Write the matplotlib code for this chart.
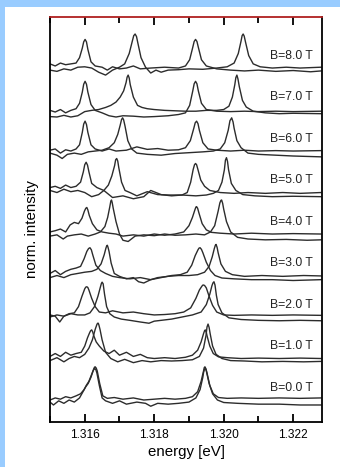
import numpy as np
import matplotlib
matplotlib.use("Agg")
from matplotlib import pyplot as plt
from matplotlib.patches import Rectangle
from matplotlib.ticker import MultipleLocator

plt.rcParams['font.family'] = ['Liberation Sans', 'DejaVu Sans']

# --------------------------------------------------------------------------------------------------
# Data
# energies in meV above 1.315 eV, intensities in units of one trace spacing (offset = field in T)
# two polarisation traces per field: "a" and "b"
# --------------------------------------------------------------------------------------------------

fields = [8, 7, 6, 5, 4, 3, 2, 1, 0]
field_labels = ["B=8.0 T", "B=7.0 T", "B=6.0 T", "B=5.0 T", "B=4.0 T",
                "B=3.0 T", "B=2.0 T", "B=1.0 T", "B=0.0 T"]

e_8a = [0.00, 0.15, 0.30, 0.45, 0.60, 0.75, 0.85, 0.93, 0.97, 1.01, 1.05, 1.09, 1.18, 1.30, 1.50, 1.65, 1.80, 2.00, 2.20, 2.40, 2.60, 2.90, 3.30, 3.70, 3.90, 4.02, 4.11, 4.15, 4.19, 4.23, 4.27, 4.36, 4.50, 4.80, 5.20, 5.60, 6.00, 6.50, 7.00, 7.50, 7.80]
i_8a = [0.10, 0.05, 0.12, 0.08, 0.10, 0.12, 0.25, 0.48, 0.63, 0.69, 0.63, 0.45, 0.15, 0.05, 0.02, -0.05, 0.03, -0.02, 0.00, 0.05, -0.02, 0.00, 0.02, 0.00, 0.05, 0.20, 0.50, 0.64, 0.69, 0.64, 0.50, 0.20, 0.05, -0.02, -0.05, -0.07, -0.05, -0.08, -0.06, -0.09, -0.07]
e_8b = [0.00, 0.20, 0.40, 0.60, 0.80, 1.00, 1.20, 1.40, 1.60, 1.80, 2.00, 2.15, 2.28, 2.37, 2.41, 2.45, 2.49, 2.53, 2.62, 2.75, 2.90, 3.05, 3.20, 3.40, 3.70, 4.00, 4.40, 4.80, 5.10, 5.30, 5.42, 5.50, 5.53, 5.56, 5.59, 5.63, 5.72, 5.85, 6.05, 6.40, 6.80, 7.20, 7.80]
i_8b = [-0.05, -0.08, -0.02, -0.05, 0.02, 0.03, 0.00, -0.10, -0.17, -0.05, 0.02, 0.10, 0.35, 0.65, 0.78, 0.82, 0.76, 0.60, 0.25, 0.02, -0.12, -0.05, -0.10, -0.05, -0.04, -0.02, -0.03, 0.00, 0.03, 0.12, 0.35, 0.65, 0.78, 0.82, 0.77, 0.62, 0.30, 0.10, 0.03, 0.00, 0.02, 0.00, 0.02]

e_7a = [0.00, 0.15, 0.30, 0.45, 0.60, 0.75, 0.85, 0.93, 0.97, 1.01, 1.05, 1.09, 1.18, 1.30, 1.50, 1.70, 1.90, 2.10, 2.40, 2.70, 3.00, 3.40, 3.70, 3.90, 4.02, 4.11, 4.15, 4.19, 4.23, 4.27, 4.36, 4.50, 4.80, 5.20, 5.60, 6.00, 6.50, 7.00, 7.80]
i_7a = [-0.02, -0.06, 0.00, -0.08, -0.02, 0.02, 0.15, 0.42, 0.61, 0.68, 0.61, 0.42, 0.12, -0.02, -0.08, -0.15, -0.18, -0.15, -0.16, -0.18, -0.17, -0.15, -0.12, -0.08, 0.10, 0.45, 0.62, 0.68, 0.62, 0.45, 0.15, 0.00, -0.04, -0.05, -0.04, -0.05, -0.04, -0.05, -0.04]
e_7b = [0.00, 0.20, 0.40, 0.60, 0.80, 1.00, 1.20, 1.40, 1.60, 1.75, 1.90, 2.02, 2.12, 2.19, 2.22, 2.25, 2.28, 2.31, 2.40, 2.52, 2.65, 2.80, 3.00, 3.30, 3.60, 3.90, 4.20, 4.50, 4.80, 5.00, 5.15, 5.25, 5.32, 5.35, 5.38, 5.41, 5.45, 5.54, 5.65, 5.85, 6.20, 6.60, 7.00, 7.80]
i_7b = [-0.17, -0.18, -0.14, -0.18, -0.15, -0.05, -0.02, 0.00, 0.05, 0.10, 0.18, 0.30, 0.45, 0.65, 0.78, 0.83, 0.76, 0.60, 0.30, 0.10, 0.05, 0.02, 0.00, -0.02, -0.03, -0.04, -0.04, -0.02, -0.02, 0.00, 0.08, 0.30, 0.60, 0.77, 0.83, 0.74, 0.55, 0.22, 0.06, -0.04, -0.08, -0.10, -0.09, -0.10]

e_6a = [0.00, 0.15, 0.30, 0.45, 0.60, 0.75, 0.85, 0.93, 0.97, 1.01, 1.05, 1.09, 1.18, 1.30, 1.50, 1.70, 1.90, 2.20, 2.50, 2.80, 3.10, 3.40, 3.70, 3.90, 4.04, 4.14, 4.18, 4.22, 4.26, 4.30, 4.40, 4.55, 4.80, 5.20, 5.60, 6.00, 6.50, 7.00, 7.80]
i_6a = [0.02, 0.05, -0.05, 0.03, 0.00, 0.05, 0.15, 0.45, 0.65, 0.72, 0.64, 0.45, 0.15, 0.05, 0.00, 0.05, 0.00, 0.02, 0.10, 0.04, 0.06, 0.02, 0.03, 0.08, 0.25, 0.55, 0.68, 0.72, 0.66, 0.50, 0.20, 0.05, 0.02, 0.00, 0.02, 0.00, 0.01, 0.00, 0.01]
e_6b = [0.00, 0.20, 0.35, 0.50, 0.70, 0.90, 1.10, 1.30, 1.50, 1.70, 1.85, 1.95, 2.02, 2.06, 2.09, 2.12, 2.16, 2.24, 2.35, 2.50, 2.80, 3.20, 3.60, 4.00, 4.40, 4.70, 4.90, 5.03, 5.13, 5.18, 5.23, 5.27, 5.30, 5.38, 5.50, 5.70, 6.00, 6.50, 7.00, 7.80]
i_6b = [-0.05, -0.10, -0.18, -0.08, -0.05, -0.08, -0.02, 0.00, 0.02, 0.08, 0.20, 0.40, 0.62, 0.76, 0.80, 0.75, 0.60, 0.25, 0.05, -0.05, -0.08, -0.10, -0.06, -0.04, -0.02, 0.00, 0.05, 0.20, 0.50, 0.73, 0.80, 0.70, 0.55, 0.25, 0.08, -0.05, -0.08, -0.10, -0.12, -0.14]

e_5a = [0.00, 0.15, 0.30, 0.45, 0.60, 0.75, 0.88, 0.96, 1.00, 1.04, 1.08, 1.12, 1.20, 1.35, 1.55, 1.80, 2.10, 2.40, 2.70, 2.90, 3.20, 3.50, 3.80, 3.95, 4.05, 4.12, 4.16, 4.19, 4.22, 4.26, 4.34, 4.45, 4.60, 4.90, 5.30, 5.70, 6.20, 6.70, 7.20, 7.80]
i_5a = [0.12, 0.15, 0.10, 0.18, 0.12, 0.15, 0.25, 0.50, 0.67, 0.73, 0.66, 0.50, 0.22, 0.12, 0.05, -0.12, -0.08, -0.15, -0.10, 0.05, -0.05, -0.08, -0.06, 0.00, 0.25, 0.55, 0.67, 0.70, 0.67, 0.55, 0.30, 0.15, 0.05, 0.00, -0.02, 0.00, -0.02, 0.00, -0.02, 0.00]
e_5b = [0.00, 0.20, 0.40, 0.60, 0.80, 1.00, 1.20, 1.40, 1.55, 1.68, 1.78, 1.86, 1.89, 1.92, 1.95, 1.98, 2.06, 2.16, 2.30, 2.50, 2.80, 3.10, 3.40, 3.80, 4.20, 4.50, 4.70, 4.85, 4.95, 5.02, 5.05, 5.08, 5.11, 5.14, 5.22, 5.35, 5.55, 5.90, 6.40, 7.00, 7.80]
i_5b = [0.05, 0.00, 0.08, 0.02, 0.05, 0.00, -0.10, -0.05, 0.05, 0.18, 0.40, 0.65, 0.79, 0.82, 0.76, 0.60, 0.25, 0.05, 0.00, -0.08, 0.02, -0.05, -0.06, -0.06, -0.08, -0.06, -0.02, 0.05, 0.25, 0.55, 0.78, 0.84, 0.75, 0.55, 0.22, 0.05, -0.05, -0.08, -0.10, -0.09, -0.10]

e_4a = [0.00, 0.15, 0.30, 0.45, 0.58, 0.70, 0.82, 0.92, 0.99, 1.03, 1.06, 1.09, 1.13, 1.22, 1.35, 1.50, 1.70, 1.90, 2.10, 2.40, 2.70, 3.00, 3.30, 3.60, 3.85, 4.00, 4.10, 4.17, 4.20, 4.22, 4.25, 4.29, 4.38, 4.50, 4.65, 4.90, 5.30, 5.80, 6.40, 7.00, 7.80]
i_4a = [0.05, 0.08, 0.12, 0.05, 0.22, 0.28, 0.25, 0.38, 0.55, 0.62, 0.64, 0.58, 0.45, 0.25, 0.10, 0.05, 0.02, 0.00, -0.05, -0.02, -0.05, 0.00, -0.03, 0.00, 0.05, 0.20, 0.40, 0.58, 0.65, 0.66, 0.62, 0.50, 0.25, 0.10, 0.04, 0.02, 0.00, 0.02, 0.00, 0.01, 0.00]
e_4b = [0.00, 0.20, 0.38, 0.50, 0.70, 0.90, 1.10, 1.30, 1.45, 1.58, 1.66, 1.72, 1.75, 1.77, 1.79, 1.82, 1.90, 2.00, 2.10, 2.25, 2.45, 2.70, 3.00, 3.30, 3.60, 3.90, 4.20, 4.45, 4.62, 4.74, 4.84, 4.89, 4.92, 4.94, 4.97, 5.00, 5.08, 5.20, 5.40, 5.70, 6.20, 6.80, 7.40, 7.80]
i_4b = [-0.05, -0.02, -0.12, -0.05, -0.02, 0.00, -0.05, 0.00, 0.05, 0.18, 0.40, 0.65, 0.79, 0.82, 0.76, 0.62, 0.30, 0.00, -0.15, -0.18, -0.05, -0.02, -0.04, 0.00, -0.03, -0.02, 0.00, -0.02, 0.05, 0.20, 0.55, 0.75, 0.81, 0.82, 0.74, 0.60, 0.30, 0.05, -0.08, -0.12, -0.14, -0.13, -0.15, -0.14]

e_3a = [0.00, 0.15, 0.30, 0.45, 0.60, 0.75, 0.88, 0.98, 1.06, 1.11, 1.15, 1.19, 1.23, 1.32, 1.45, 1.60, 1.80, 2.00, 2.30, 2.60, 2.90, 3.20, 3.50, 3.75, 3.95, 4.08, 4.18, 4.26, 4.29, 4.32, 4.36, 4.40, 4.50, 4.62, 4.75, 4.95, 5.30, 5.80, 6.40, 7.00, 7.80]
i_3a = [0.05, 0.12, 0.02, 0.10, 0.15, 0.18, 0.22, 0.40, 0.58, 0.65, 0.67, 0.62, 0.50, 0.25, 0.12, 0.05, -0.02, -0.05, -0.08, -0.05, -0.10, -0.05, 0.00, 0.02, 0.08, 0.25, 0.48, 0.62, 0.66, 0.67, 0.63, 0.55, 0.32, 0.12, 0.00, -0.06, -0.08, -0.10, -0.10, -0.12, -0.10]
e_3b = [0.00, 0.20, 0.40, 0.60, 0.80, 1.00, 1.20, 1.35, 1.47, 1.56, 1.61, 1.63, 1.65, 1.67, 1.70, 1.76, 1.85, 2.00, 2.20, 2.40, 2.55, 2.70, 2.90, 3.10, 3.40, 3.70, 4.00, 4.25, 4.45, 4.58, 4.67, 4.73, 4.76, 4.78, 4.81, 4.84, 4.92, 5.05, 5.25, 5.60, 6.10, 6.70, 7.30, 7.80]
i_3b = [-0.05, 0.00, -0.05, 0.02, 0.05, 0.08, 0.10, 0.15, 0.28, 0.50, 0.66, 0.71, 0.73, 0.68, 0.58, 0.30, 0.05, -0.02, -0.08, -0.05, -0.15, -0.18, -0.10, -0.05, -0.02, 0.00, 0.00, 0.02, 0.08, 0.22, 0.45, 0.65, 0.73, 0.75, 0.68, 0.55, 0.28, 0.10, 0.02, -0.02, 0.00, -0.02, 0.00, -0.01]

e_2a = [0.00, 0.15, 0.28, 0.40, 0.55, 0.70, 0.82, 0.92, 1.00, 1.03, 1.06, 1.09, 1.12, 1.20, 1.30, 1.42, 1.60, 1.80, 2.10, 2.40, 2.70, 3.00, 3.30, 3.60, 3.85, 4.05, 4.20, 4.30, 4.37, 4.40, 4.43, 4.46, 4.50, 4.58, 4.68, 4.80, 5.00, 5.30, 5.80, 6.40, 7.00, 7.80]
i_2a = [0.05, 0.02, -0.12, 0.02, 0.08, 0.10, 0.25, 0.50, 0.68, 0.72, 0.73, 0.71, 0.65, 0.45, 0.25, 0.12, 0.10, 0.15, 0.10, 0.12, 0.08, 0.05, 0.06, 0.08, 0.12, 0.22, 0.45, 0.65, 0.74, 0.77, 0.77, 0.75, 0.70, 0.50, 0.28, 0.12, 0.05, 0.04, 0.05, 0.04, 0.05, 0.04]
e_2b = [0.00, 0.20, 0.40, 0.60, 0.80, 1.00, 1.15, 1.28, 1.38, 1.45, 1.48, 1.50, 1.53, 1.57, 1.63, 1.72, 1.85, 2.05, 2.30, 2.60, 2.85, 3.00, 3.20, 3.50, 3.80, 4.10, 4.35, 4.50, 4.60, 4.66, 4.69, 4.72, 4.75, 4.79, 4.84, 4.95, 5.15, 5.50, 6.00, 6.60, 7.20, 7.80]
i_2b = [0.00, 0.05, 0.02, 0.08, 0.05, 0.05, 0.10, 0.25, 0.50, 0.72, 0.81, 0.84, 0.80, 0.55, 0.25, 0.08, 0.00, -0.05, -0.08, -0.12, -0.15, -0.10, -0.08, -0.05, 0.00, 0.05, 0.12, 0.30, 0.55, 0.75, 0.82, 0.85, 0.77, 0.52, 0.30, 0.10, -0.02, -0.06, -0.08, -0.09, -0.08, -0.09]

e_1a = [0.00, 0.15, 0.30, 0.45, 0.60, 0.75, 0.90, 1.00, 1.08, 1.14, 1.17, 1.20, 1.23, 1.26, 1.33, 1.42, 1.55, 1.70, 1.85, 2.00, 2.20, 2.40, 2.60, 2.80, 3.00, 3.30, 3.60, 3.90, 4.10, 4.25, 4.35, 4.42, 4.45, 4.47, 4.50, 4.52, 4.60, 4.70, 4.85, 5.10, 5.50, 6.00, 6.60, 7.20, 7.80]
i_1a = [0.05, 0.12, 0.05, 0.15, 0.08, 0.12, 0.15, 0.30, 0.50, 0.62, 0.67, 0.69, 0.64, 0.55, 0.40, 0.30, 0.18, 0.12, 0.20, 0.08, 0.15, 0.05, 0.10, 0.02, 0.00, 0.02, 0.00, 0.03, 0.08, 0.20, 0.40, 0.60, 0.67, 0.69, 0.63, 0.55, 0.30, 0.12, 0.04, 0.02, 0.00, 0.01, 0.00, 0.01, 0.00]
e_1b = [0.00, 0.20, 0.40, 0.55, 0.70, 0.85, 1.00, 1.12, 1.22, 1.30, 1.35, 1.37, 1.39, 1.41, 1.44, 1.50, 1.60, 1.75, 1.95, 2.15, 2.40, 2.65, 2.90, 3.20, 3.50, 3.80, 4.10, 4.30, 4.42, 4.49, 4.52, 4.55, 4.58, 4.61, 4.68, 4.78, 4.95, 5.20, 5.60, 6.10, 6.70, 7.30, 7.80]
i_1b = [-0.05, 0.02, -0.08, 0.00, 0.05, 0.02, 0.10, 0.25, 0.45, 0.70, 0.82, 0.85, 0.85, 0.80, 0.70, 0.45, 0.15, 0.00, -0.08, -0.02, -0.10, -0.05, -0.08, -0.05, -0.06, -0.05, -0.03, 0.05, 0.25, 0.55, 0.76, 0.83, 0.75, 0.60, 0.30, 0.10, 0.00, -0.05, -0.06, -0.08, -0.07, -0.08, -0.07]

e_0a = [0.00, 0.15, 0.30, 0.45, 0.60, 0.75, 0.88, 0.98, 1.05, 1.12, 1.20, 1.26, 1.28, 1.30, 1.33, 1.36, 1.43, 1.52, 1.65, 1.85, 2.10, 2.40, 2.70, 3.00, 3.30, 3.60, 3.90, 4.10, 4.25, 4.35, 4.42, 4.44, 4.46, 4.49, 4.52, 4.60, 4.70, 4.85, 5.10, 5.50, 6.00, 6.60, 7.20, 7.80]
i_0a = [0.00, 0.05, 0.02, 0.08, 0.05, 0.10, 0.15, 0.25, 0.36, 0.45, 0.62, 0.75, 0.79, 0.80, 0.77, 0.70, 0.40, 0.10, 0.04, 0.06, 0.02, 0.05, 0.00, 0.02, 0.04, 0.02, 0.04, 0.08, 0.20, 0.45, 0.70, 0.78, 0.80, 0.75, 0.65, 0.35, 0.15, 0.06, 0.04, 0.05, 0.04, 0.05, 0.04, 0.05]
e_0b = [0.00, 0.10, 0.25, 0.40, 0.55, 0.70, 0.85, 0.95, 1.03, 1.10, 1.18, 1.24, 1.27, 1.29, 1.32, 1.35, 1.42, 1.50, 1.60, 1.80, 2.00, 2.20, 2.50, 2.75, 2.90, 3.10, 3.40, 3.70, 4.00, 4.20, 4.32, 4.40, 4.42, 4.45, 4.48, 4.50, 4.58, 4.68, 4.82, 5.00, 5.40, 6.00, 6.60, 7.20, 7.80]
i_0b = [-0.05, -0.12, -0.02, -0.08, 0.00, -0.05, 0.05, 0.20, 0.32, 0.40, 0.55, 0.70, 0.75, 0.76, 0.73, 0.65, 0.35, 0.05, -0.02, -0.08, -0.02, -0.10, -0.05, -0.08, -0.15, -0.08, -0.10, -0.08, -0.05, 0.05, 0.25, 0.55, 0.66, 0.75, 0.75, 0.70, 0.40, 0.15, 0.00, -0.06, -0.08, -0.10, -0.10, -0.12, -0.12]

traces = [(8, e_8a, i_8a), (8, e_8b, i_8b), (7, e_7a, i_7a), (7, e_7b, i_7b),
          (6, e_6a, i_6a), (6, e_6b, i_6b), (5, e_5a, i_5a), (5, e_5b, i_5b),
          (4, e_4a, i_4a), (4, e_4b, i_4b), (3, e_3a, i_3a), (3, e_3b, i_3b),
          (2, e_2a, i_2a), (2, e_2b, i_2b), (1, e_1a, i_1a), (1, e_1b, i_1b),
          (0, e_0a, i_0a), (0, e_0b, i_0b)]

# --------------------------------------------------------------------------------------------------
# Figure
# --------------------------------------------------------------------------------------------------

W, H = 340, 467
fig = plt.figure(figsize=(W / 100, H / 100), dpi=100, facecolor="white")
# light blue frame strips on the top and left edge
fig.patches.append(Rectangle((0, 1 - 7 / H), 1, 7 / H, transform=fig.transFigure,
                             facecolor="#99ccff", edgecolor="none"))
fig.patches.append(Rectangle((0, 0), 5 / W, 1, transform=fig.transFigure,
                             facecolor="#99ccff", edgecolor="none"))

ax = fig.add_axes([50 / W, 1 - 422 / H, 272 / W, 405 / H])
ax.set_facecolor("white")

for b, e, y in traces:
    ax.plot(1.315 + np.array(e) / 1000, b + np.array(y), color="#2c2c2c", lw=1.0,
            solid_joinstyle="round")

for b, lab in zip(fields, field_labels):
    ax.text(1.32257, b + 0.3, lab, ha="right", va="center", fontsize=8.8, color="#222222")

ax.set_xlim(1.315, 1.32283)
ax.set_ylim(-0.53, 9.23)
ax.xaxis.set_major_locator(MultipleLocator(0.002))
ax.xaxis.set_minor_locator(MultipleLocator(0.001))
ax.xaxis.set_major_formatter(plt.FuncFormatter(lambda v, p: f"{v:.3f}"))
ax.tick_params(axis="x", which="both", direction="in", top=True, bottom=True,
               width=1.3, color="black")
ax.tick_params(axis="x", which="major", length=6, labelsize=8.6, pad=5)
ax.tick_params(axis="x", which="minor", length=4)
ax.set_yticks([])
for side, sp in ax.spines.items():
    sp.set_linewidth(1.3)
    sp.set_color("black")
ax.spines["top"].set_color("#b02020")

fig.text(186 / W, 1 - 452 / H, "energy [eV]", ha="center", va="center", fontsize=10.8)
fig.text(32 / W, 1 - 229 / H, "norm. intensity", ha="center", va="center",
         rotation=90, fontsize=10.8)

fig.savefig("out.png", dpi=100)
